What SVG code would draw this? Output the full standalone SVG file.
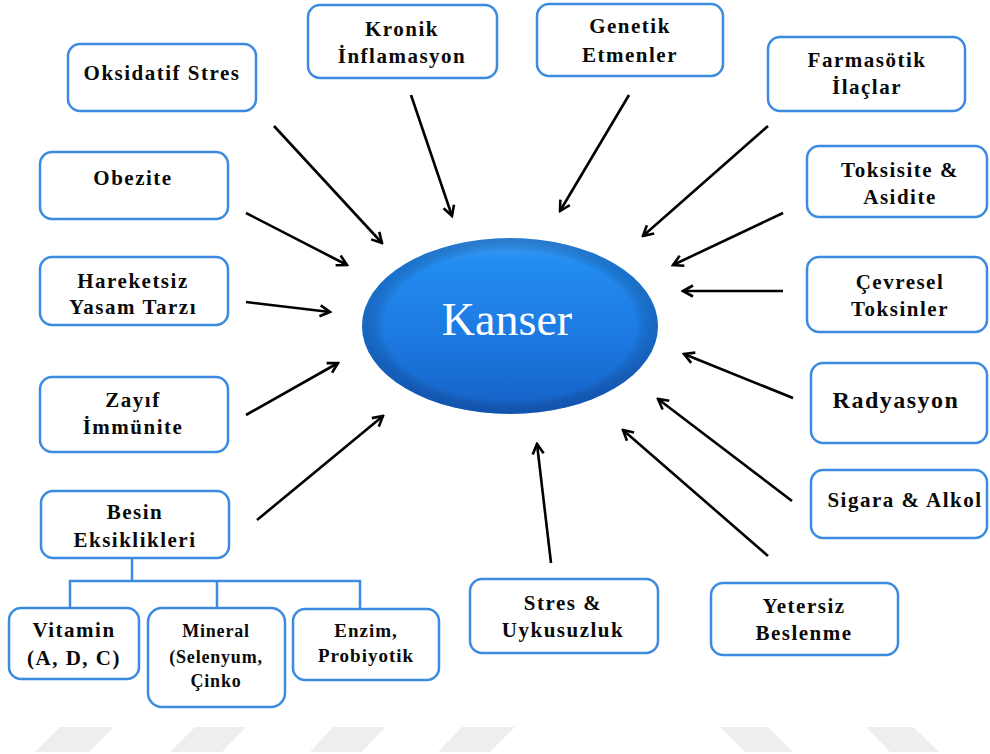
<svg xmlns="http://www.w3.org/2000/svg" width="990" height="754" viewBox="0 0 990 754">
<style>
.box{fill:#fff;stroke:#3d8be0;stroke-width:2.5}
.t{font-family:"Liberation Serif","Times New Roman",serif;font-weight:bold;font-size:21px;letter-spacing:1.5px;fill:#0a0a0a;text-anchor:middle}
.arr{stroke:#000;stroke-width:2.6;fill:none;marker-end:url(#ah)}
.tree{stroke:#3d8be0;stroke-width:2.5;fill:none}
.wm{fill:#eeeeee}
</style>
<defs>
<marker id="ah" viewBox="0 0 14 14" refX="12" refY="7" markerWidth="14" markerHeight="14" markerUnits="userSpaceOnUse" orient="auto">
<path d="M2,1.5 L12,7 L2,12.5" fill="none" stroke="#000" stroke-width="2.6"/>
</marker>
<linearGradient id="eg" x1="0" y1="0" x2="0" y2="1">
<stop offset="0" stop-color="#3a9af4"/>
<stop offset="0.15" stop-color="#238cf0"/>
<stop offset="0.6" stop-color="#1c78e0"/>
<stop offset="1" stop-color="#1660c4"/>
</linearGradient>
<radialGradient id="rim" cx="0.5" cy="0.5" r="0.5">
<stop offset="0.85" stop-color="#000" stop-opacity="0"/>
<stop offset="1" stop-color="#0b3f8a" stop-opacity="0.35"/>
</radialGradient>
</defs>

<g id="watermark">
<polygon class="wm" points="35,752 89,752 114,727 60,727"/>
<polygon class="wm" points="170,752 222,752 246,727 195,727"/>
<polygon class="wm" points="310,752 362,752 385,727 333,727"/>
<polygon class="wm" points="438,752 490,752 515,727 462,727"/>
<polygon class="wm" points="745,752 793,752 768,727 720,727"/>
<polygon class="wm" points="890,752 939,752 913,727 866,727"/>
</g>

<g id="connectors">
<line class="arr" x1="274" y1="126" x2="382" y2="243"/>
<line class="arr" x1="411" y1="95" x2="452" y2="216"/>
<line class="arr" x1="629" y1="95" x2="560" y2="211"/>
<line class="arr" x1="768" y1="126" x2="643" y2="236"/>
<line class="arr" x1="783" y1="213" x2="673" y2="265"/>
<line class="arr" x1="783" y1="291" x2="683" y2="291"/>
<line class="arr" x1="793" y1="398" x2="684" y2="354"/>
<line class="arr" x1="792" y1="501" x2="658" y2="399"/>
<line class="arr" x1="768" y1="556" x2="623" y2="430"/>
<line class="arr" x1="551" y1="563" x2="537" y2="444"/>
<line class="arr" x1="257" y1="520" x2="383" y2="416"/>
<line class="arr" x1="246" y1="415" x2="338" y2="363"/>
<line class="arr" x1="246" y1="302" x2="330" y2="312"/>
<line class="arr" x1="246" y1="213" x2="347" y2="265"/>
<path class="tree" d="M132,558 V581 M70,608 V581 H360 V609 M217,581 V608"/>
</g>

<g id="kanser">
<ellipse cx="510" cy="326" rx="148" ry="88" fill="url(#eg)"/>
<ellipse cx="510" cy="326" rx="148" ry="88" fill="url(#rim)"/>
<text x="507" y="335" font-family="'Liberation Serif','Times New Roman',serif" font-size="46" fill="#fff" text-anchor="middle">Kanser</text>
</g>

<g id="oksidatif">
<rect class="box" x="68" y="44" width="188" height="67" rx="12"/>
<text class="t" x="162" y="80">Oksidatif Stres</text>
</g>
<g id="kronik">
<rect class="box" x="308" y="5" width="189" height="73" rx="12"/>
<text class="t" x="402" y="36">Kronik</text>
<text class="t" x="402" y="63">İnflamasyon</text>
</g>
<g id="genetik">
<rect class="box" x="537" y="4" width="186" height="72" rx="12"/>
<text class="t" x="630" y="33">Genetik</text>
<text class="t" x="630" y="62">Etmenler</text>
</g>
<g id="farmasotik">
<rect class="box" x="768" y="37" width="197" height="74" rx="12"/>
<text class="t" x="867" y="67">Farmasötik</text>
<text class="t" x="867" y="94">İlaçlar</text>
</g>
<g id="toksisite">
<rect class="box" x="807" y="146" width="180" height="71" rx="12"/>
<text class="t" x="900" y="177">Toksisite &amp;</text>
<text class="t" x="900" y="204">Asidite</text>
</g>
<g id="cevresel">
<rect class="box" x="807" y="257" width="180" height="75" rx="12"/>
<text class="t" x="900" y="289">Çevresel</text>
<text class="t" x="900" y="316">Toksinler</text>
</g>
<g id="radyasyon">
<rect class="box" x="811" y="363" width="176" height="80" rx="12"/>
<text class="t" x="896" y="408" style="font-size:24px">Radyasyon</text>
</g>
<g id="sigara">
<rect class="box" x="811" y="470" width="176" height="68" rx="12"/>
<text class="t" x="905" y="507">Sigara &amp; Alkol</text>
</g>
<g id="obezite">
<rect class="box" x="40" y="152" width="188" height="67" rx="12"/>
<text class="t" x="133" y="185">Obezite</text>
</g>
<g id="hareketsiz">
<rect class="box" x="40" y="257" width="188" height="68" rx="12"/>
<text class="t" x="133" y="288">Hareketsiz</text>
<text class="t" x="133" y="314">Yasam Tarzı</text>
</g>
<g id="zayif">
<rect class="box" x="40" y="377" width="188" height="75" rx="12"/>
<text class="t" x="133" y="407">Zayıf</text>
<text class="t" x="133" y="434">İmmünite</text>
</g>
<g id="besin">
<rect class="box" x="41" y="491" width="188" height="67" rx="12"/>
<text class="t" x="135" y="519">Besin</text>
<text class="t" x="135" y="547">Eksiklikleri</text>
</g>
<g id="vitamin">
<rect class="box" x="9" y="608" width="130" height="71" rx="12"/>
<text class="t" x="74" y="637">Vitamin</text>
<text class="t" x="74" y="665">(A, D, C)</text>
</g>
<g id="mineral">
<rect class="box" x="148" y="608" width="137" height="99" rx="14"/>
<text class="t" x="216" y="637" style="font-size:18px;letter-spacing:0.8px">Mineral</text>
<text class="t" x="216" y="663" style="font-size:18px;letter-spacing:0.8px">(Selenyum,</text>
<text class="t" x="216" y="687" style="font-size:18px;letter-spacing:0.8px">Çinko</text>
</g>
<g id="enzim">
<rect class="box" x="293" y="609" width="146" height="71" rx="12"/>
<text class="t" x="366" y="637" style="font-size:19px;letter-spacing:1px">Enzim,</text>
<text class="t" x="366" y="662" style="font-size:19px;letter-spacing:1px">Probiyotik</text>
</g>
<g id="stres">
<rect class="box" x="470" y="579" width="188" height="74" rx="12"/>
<text class="t" x="563" y="610">Stres &amp;</text>
<text class="t" x="563" y="637">Uykusuzluk</text>
</g>
<g id="yetersiz">
<rect class="box" x="711" y="583" width="187" height="72" rx="12"/>
<text class="t" x="804" y="613">Yetersiz</text>
<text class="t" x="804" y="640">Beslenme</text>
</g>
</svg>
